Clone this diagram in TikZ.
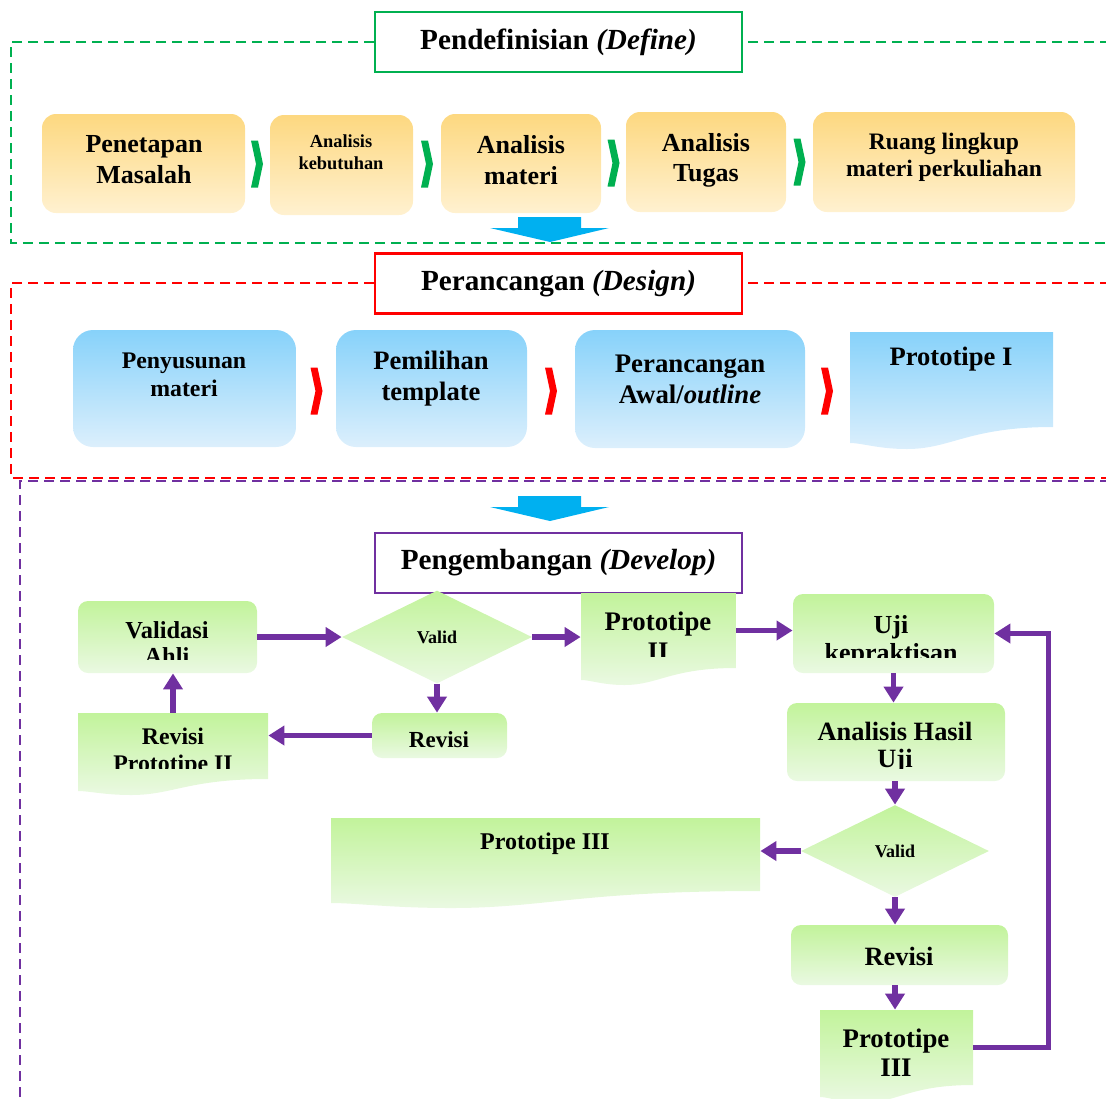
\documentclass[tikz,border=0pt]{standalone}
\usepackage{fontspec}
\setmainfont{Liberation Serif}
\usepackage{xcolor}
\usetikzlibrary{positioning,arrows.meta,shapes.geometric,fit}
\definecolor{hijau}{RGB}{0,176,80}
\definecolor{merah}{RGB}{255,0,0}
\definecolor{ungu}{RGB}{112,48,160}
\definecolor{biru}{RGB}{0,176,240}
\definecolor{kuningA}{RGB}{253,216,128}
\definecolor{kuningB}{RGB}{255,241,208}
\definecolor{biruA}{RGB}{135,210,250}
\definecolor{biruB}{RGB}{220,239,252}
\definecolor{hijauA}{RGB}{194,243,155}
\definecolor{hijauB}{RGB}{234,249,226}
% chevron kecil di antara kotak
\newcommand{\chev}[3]{\fill[#1] (#2,#3) ++(-6,-23.5) -- ++(7,0) -- ++(5,23.5) -- ++(-5,23.5) -- ++(-7,0) -- ++(5,-23.5) -- cycle;}
% panah biru besar antar tahap
\newcommand{\panah}[1]{\fill[biru] (518,#1) -- (581,#1) -- (581,{#1+11}) -- (609,{#1+11}) -- (550,{#1+25}) -- (490,{#1+11}) -- (518,{#1+11}) -- cycle;}
% bentuk dokumen: nama, x1, y atas, x2, y kanan bawah, y kiri bawah, y lembah, warna
\newcommand{\dok}[8]{%
  \shade[top color=#8A, bottom color=#8B] (#2,#3) -- (#4,#3) -- (#4,#5)
    .. controls ({#4-0.42*(#4-#2)},#5) and ({#2+0.5*(#4-#2)},#7) .. ({#2+0.28*(#4-#2)},#7)
    .. controls ({#2+0.14*(#4-#2)},#7) and ({#2+0.06*(#4-#2)},#6) .. (#2,#6) -- cycle;
  \node[fit={(#2,#3) (#4,#5)}, inner sep=0pt] (#1) {};}

\begin{document}
\begin{tikzpicture}[x=0.5pt, y=-0.5pt,
  ybox/.style={rounded corners=7pt, top color=kuningA, bottom color=kuningB, inner sep=0pt},
  bbox/.style={rounded corners=10pt, top color=biruA, bottom color=biruB, inner sep=0pt},
  gbox/.style={rounded corners=5pt, top color=hijauA, bottom color=hijauB, inner sep=0pt},
  gdia/.style={diamond, top color=hijauA, bottom color=hijauB, inner sep=0pt, font=\fontsize{9}{10}\selectfont\bfseries},
  judul/.style={draw=#1, line width=1.25pt, fill=white, minimum width=183.5pt, minimum height=30pt,
                font=\fontsize{14.6}{17}\selectfont\bfseries},
  wh/.style 2 args={minimum width=#1*0.5pt, minimum height=#2*0.5pt},
  tx/.style 2 args={align=center, inner sep=0pt, font=\fontsize{#1}{#2}\selectfont\bfseries},
  bingkai/.style={draw=#1, line width=1.25pt, dash pattern=on 5pt off 3pt},
  alur/.style={draw=ungu, line width=2.6pt, -{Triangle[length=8pt,width=9.5pt]}}]

\useasboundingbox (0,0) rectangle (1106,1098);

% bingkai tahap
\draw[bingkai=hijau] (1110,42) -- (11,42) -- (11,243) -- (1110,243);
\draw[bingkai=merah] (1110,283) -- (11,283) -- (11,478) -- (1110,478);
\draw[bingkai=ungu] (1110,481) -- (20,481) -- (20,1110);

% define
\node[judul=hijau] (tdef) at (558.5,42) {Pendefinisian \textit{(Define)}};
\node[ybox, wh={203}{99}] (pm) at (143.5,163.5) {};
\node[ybox, wh={143}{100}] (ak) at (341.5,165) {};
\node[ybox, wh={160}{99}] (am) at (521,163.5) {};
\node[ybox, wh={160}{100}] (at) at (706,162) {};
\node[ybox, wh={262}{100}] (rl) at (944,162) {};
\node[tx={13}{15.5}] (pm-t) at (144,160) {Penetapan\\Masalah};
\node[tx={9.2}{11}] (ak-t) at (341,152) {Analisis\\kebutuhan};
\node[tx={13}{15.5}] (am-t) at (521,160) {Analisis\\materi};
\node[tx={13}{15}] (at-t) at (706,160) {Analisis\\Tugas};
\node[tx={11.8}{13.5}] (rl-t) at (944,157) {Ruang lingkup\\materi perkuliahan};
\chev{hijau}{257}{164}
\chev{hijau}{427}{164}
\chev{hijau}{613.5}{163}
\chev{hijau}{799.5}{162}
\panah{217}

% design
\node[judul=merah] (tdes) at (558.5,283.5) {Perancangan \textit{(Design)}};
\node[bbox, wh={223}{117}] (pn) at (184.5,388.5) {};
\node[bbox, wh={191}{117}] (pt) at (431.5,388.5) {};
\node[bbox, wh={230}{118}] (pa) at (690,389) {};
\dok{p1}{850}{332}{1053}{427}{443}{449}{biru}
\node[tx={11.9}{14}] (pn-t) at (184,374.5) {Penyusunan\\materi};
\node[tx={13.3}{15.5}] (pt-t) at (431,378.5) {Pemilihan\\template};
\node[tx={13.4}{15.5}] (pa-t) at (690,379) {Perancangan\\Awal/\textit{outline}};
\node[tx={13.3}{15}] (p1-t) at (951,359) {Prototipe I};
\chev{merah}{316.5}{391}
\chev{merah}{551}{391}
\chev{merah}{827}{391}
\panah{496}

% develop
\node[judul=ungu] (tdev) at (558.5,563) {Pengembangan \textit{(Develop)}};
\node[gbox, wh={179}{72}] (val) at (167.5,637) {};
\node[gdia, wh={190}{93}] (dia1) at (437,637) {Valid};
\dok{p2}{581}{593}{736}{668}{680}{685}{hijau}
\node[gbox, wh={201}{79}] (uji) at (893.5,633.5) {};
\node[gbox, wh={135}{45}] (rev1) at (439.5,735.5) {};
\dok{rp2}{78}{713}{268}{779}{791}{795}{hijau}
\node[gbox, wh={218}{78}] (ana) at (896,742) {};
\node[gdia, wh={188}{92}] (dia2) at (895,851) {Valid};
\dok{p3a}{331}{818}{760}{891}{903}{908}{hijau}
\node[gbox, wh={217}{60}] (rev2) at (899.5,955) {};
\dok{p3b}{820}{1010}{973}{1085}{1097}{1103}{hijau}

\begin{scope}
  \clip (0,0) rectangle (1106,659);
  \node[tx={12.2}{13}] (val-t) at (167,643) {Validasi\\Ahli};
\end{scope}
\begin{scope}
  \clip (0,0) rectangle (1106,656);
  \node[tx={13.4}{15}] (p2-t) at (658,636) {Prototipe\\II};
\end{scope}
\begin{scope}
  \clip (0,0) rectangle (1106,657);
  \node[tx={13}{14}] (uji-t) at (891,641) {Uji\\kepraktisan};
\end{scope}
\begin{scope}
  \clip (0,0) rectangle (1106,747);
  \node[tx={11.5}{13}] (rev1-t) at (439,740) {Revisi};
\end{scope}
\begin{scope}
  \clip (0,0) rectangle (1106,768);
  \node[tx={11.9}{13.5}] (rp2-t) at (173,752.5) {Revisi\\Prototipe II};
  \node[tx={13.2}{13.5}] (ana-t) at (895,747.5) {Analisis Hasil\\Uji};
\end{scope}
\node[tx={12}{14}] (p3a-t) at (545,844) {Prototipe III};
\node[tx={13.2}{15}] (rev2-t) at (899,956) {Revisi};
\node[tx={13.4}{14.5}] (p3b-t) at (896,1053) {Prototipe\\III};

% alur
\draw[alur] (val.east) -- (dia1.west);
\draw[alur] (dia1.east) -- (dia1.east -| p2.west);
\draw[alur] (p2.east) -- (p2.east -| uji.west);
\draw[alur] (dia1.south) -- (dia1.south |- rev1.north);
\draw[alur] (rev1.west) -- (rev1.west -| rp2.east);
\draw[alur] (rp2.north) -- (rp2.north |- val.south);
\draw[alur] (uji.south) -- (uji.south |- ana.north);
\draw[alur] (dia2.north |- ana.south) -- (dia2.north);
\draw[alur] (dia2.west) -- (dia2.west -| p3a.east);
\draw[alur] (dia2.south) -- (dia2.south |- rev2.north);
\draw[alur] (dia2.south |- rev2.south) -- (dia2.south |- p3b.north);
\draw[alur] (p3b.east) -- ++(75,0) |- (uji.east);

\end{tikzpicture}
\end{document}
